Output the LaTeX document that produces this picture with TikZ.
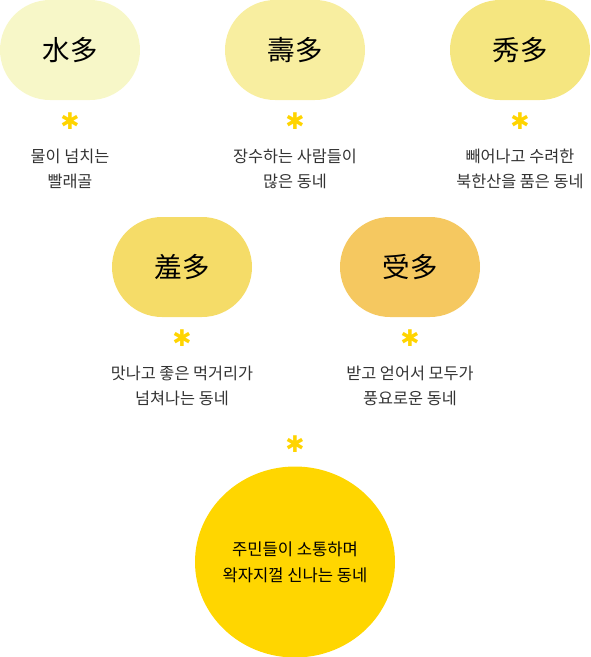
\documentclass[tikz,border=0pt]{standalone}
\usepackage{fontspec}
\setmainfont{Noto Sans CJK KR}
\newfontfamily\symfont{DejaVu Sans}
\usetikzlibrary{shapes.misc,shapes.geometric}
\definecolor{cA}{HTML}{F7F7C8}
\definecolor{cB}{HTML}{F8EEA0}
\definecolor{cC}{HTML}{F5E680}
\definecolor{cD}{HTML}{F5DC68}
\definecolor{cE}{HTML}{F5C860}
\definecolor{cF}{HTML}{FFD600}
\definecolor{star}{HTML}{FFD400}
\definecolor{txt}{HTML}{333333}
\tikzset{
  pill/.style={rounded rectangle, minimum width=140pt, minimum height=100pt, inner sep=0pt, font=\fontsize{27.5}{30}\selectfont, text=black},
  ast/.style={text=star, font=\symfont\fontsize{23}{23}\selectfont, inner sep=0pt},
  desc/.style={text=txt, align=center, font=\fontsize{16.3}{25}\selectfont, inner sep=0pt},
}
\begin{document}
\begin{tikzpicture}[x=1pt,y=-1pt]
\useasboundingbox (0,0) rectangle (590,657);
\node[pill, fill=cA] (p1) at (70,50) {水多};
\node[pill, fill=cB] (p2) at (295,50) {壽多};
\node[pill, fill=cC] (p3) at (520,50) {秀多};
\node[pill, fill=cD] (p4) at (182,267) {羞多};
\node[pill, fill=cE] (p5) at (410,267) {受多};
\node[fill=cF, ellipse, minimum width=200pt, minimum height=191pt, inner sep=-25pt, text=black, align=center, font=\fontsize{16.6}{26}\selectfont] (c) at (295,562) {주민들이 소통하며\\ 왁자지껄 신나는 동네};
\node[ast] (a1) at (70,121) {✱};
\node[ast] (a2) at (295,121) {✱};
\node[ast] (a3) at (520,121) {✱};
\node[ast] (a4) at (182,338) {✱};
\node[ast] (a5) at (410,338) {✱};
\node[ast] (a6) at (295,444) {✱};
\node[desc] (d1) at (70,169) {물이 넘치는\\빨래골};
\node[desc] (d2) at (295,169) {장수하는 사람들이\\많은 동네};
\node[desc] (d3) at (520,169) {빼어나고 수려한\\북한산을 품은 동네};
\node[desc] (d4) at (182,386) {맛나고 좋은 먹거리가\\넘쳐나는 동네};
\node[desc] (d5) at (410,386) {받고 얻어서 모두가\\풍요로운 동네};
\end{tikzpicture}
\end{document}
